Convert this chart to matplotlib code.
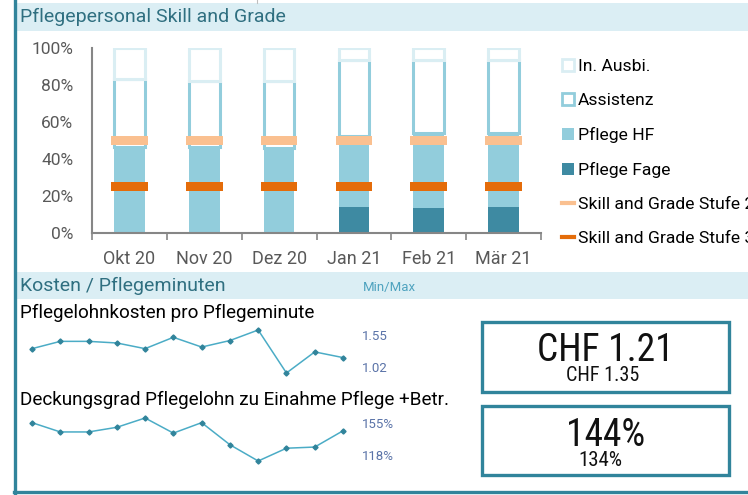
import matplotlib
matplotlib.use("Agg")
import matplotlib.pyplot as plt
from matplotlib import font_manager
from matplotlib.patches import Rectangle, Patch
from matplotlib.lines import Line2D
import numpy as np

# --- data ---
months = ["Okt 20", "Nov 20", "Dez 20", "Jan 21", "Feb 21", "Mär 21"]
pflege_fage = [0.00, 0.00, 0.00, 0.14, 0.135, 0.14]
pflege_hf = [0.465, 0.465, 0.46, 0.385, 0.405, 0.40]
assistenz = [0.365, 0.355, 0.36, 0.41, 0.395, 0.395]
in_ausbi = [0.17, 0.18, 0.18, 0.065, 0.065, 0.065]
stufe2 = [0.50, 0.50, 0.50, 0.50, 0.50, 0.50]
stufe3 = [0.25, 0.25, 0.25, 0.25, 0.25, 0.25]

kosten_min = [1.32, 1.41, 1.41, 1.39, 1.32, 1.46, 1.34, 1.42, 1.55, 1.02, 1.28, 1.21]
deckung = [151, 143, 143, 147, 155, 142, 151, 132, 118, 129, 130, 144]
kosten_ref = 1.35
deckung_ref = 134

# --- colours ---
teal = "#31849b"
band = "#dbeef4"
c_fage = "#3e8aa2"
c_hf = "#92cddc"
c_ausbi = "#daeef3"
c_st2 = "#fac090"
c_st3 = "#e46c0a"
grey = "#595959"

names = {f.name for f in font_manager.fontManager.ttflist}
cond = "Roboto"
for cand in ["Roboto Condensed", "Liberation Sans Narrow"]:
    if cand in names:
        cond = cand
        break
plt.rcParams["font.family"] = ["Roboto", "DejaVu Sans"]
cond_fam = [cond, "DejaVu Sans"]

W, H = 748, 495
fig = plt.figure(figsize=(W / 100, H / 100), dpi=100)


def fx(px):
    return px / W


def fy(py):
    return 1 - py / H


def rect_px(x0, y0, x1, y1, **kw):
    fig.patches.append(Rectangle((fx(x0), fy(y1)), fx(x1) - fx(x0),
                                 fy(y0) - fy(y1), transform=fig.transFigure,
                                 **kw))


# header bands and frame
rect_px(17, 3, 748, 31, facecolor=band, edgecolor="none")
rect_px(17, 272, 748, 299, facecolor=band, edgecolor="none")
fig.add_artist(Line2D([fx(15), fx(15)], [fy(0), fy(493)], color=teal, lw=2.4,
                      transform=fig.transFigure))
fig.add_artist(Line2D([fx(14), fx(748)], [fy(492), fy(492)], color=teal, lw=2.4,
                      transform=fig.transFigure))
fig.add_artist(Line2D([fx(257), fx(257)], [fy(0), fy(3)], color="#bfbfbf", lw=0.8,
                      transform=fig.transFigure))

fig.text(fx(20), fy(17), "Pflegepersonal Skill and Grade", color="#2f6f80",
         fontsize=14, va="center", ha="left")
fig.text(fx(20), fy(286), "Kosten / Pflegeminuten", color="#2f6f80",
         fontsize=14, va="center", ha="left")
fig.text(fx(363), fy(287), "Min/Max", color="#4fa3bf", fontsize=9.5,
         va="center", ha="left")

# --- stacked bar chart ---
ax = fig.add_axes([fx(92), fy(233), fx(541) - fx(92), fy(48) - fy(233)])
x = np.arange(len(months))
bw = 0.41
ax.bar(x, pflege_fage, bw, color=c_fage, zorder=2)
bot = np.array(pflege_fage)
ax.bar(x, pflege_hf, bw, bottom=bot, color=c_hf, zorder=2)
bot = bot + np.array(pflege_hf)
ax.bar(x, assistenz, bw, bottom=bot, facecolor="white", edgecolor=c_hf,
       linewidth=2.2, zorder=2)
bot = bot + np.array(assistenz)
ax.bar(x, in_ausbi, bw, bottom=bot, facecolor="white", edgecolor=c_ausbi,
       linewidth=2.2, zorder=2)

th = 0.049
ax.bar(x, th, 0.49, bottom=np.array(stufe2) - th / 2, color=c_st2, zorder=3)
ax.bar(x, th, 0.49, bottom=np.array(stufe3) - th / 2, color=c_st3, zorder=3)

ax.set_xlim(-0.5, len(months) - 0.5)
ax.set_ylim(0, 1)
ax.set_yticks(np.arange(0, 1.01, 0.2))
ax.set_yticklabels([f"{v:.0%}" for v in np.arange(0, 1.01, 0.2)])
ax.set_xticks(x)
ax.set_xticklabels(months)
ax.set_xticks(np.arange(-0.5, len(months)), minor=True)
ax.tick_params(axis="x", which="major", length=0, pad=12, labelsize=13,
               labelcolor=grey)
ax.tick_params(axis="x", which="minor", length=5, width=1.2, color="#868686")
ax.tick_params(axis="y", length=0, pad=13.5, labelsize=12.5, labelcolor=grey)
for s in ["top", "right"]:
    ax.spines[s].set_visible(False)
for s in ["left", "bottom"]:
    ax.spines[s].set_color("#868686")
    ax.spines[s].set_linewidth(1.5)

handles = [
    Patch(facecolor="white", edgecolor=c_ausbi, linewidth=2),
    Patch(facecolor="white", edgecolor=c_hf, linewidth=2),
    Patch(facecolor=c_hf),
    Patch(facecolor=c_fage),
    Line2D([0], [0], color=c_st2, lw=3),
    Line2D([0], [0], color=c_st3, lw=3),
]
labels = ["In. Ausbi.", "Assistenz", "Pflege HF", "Pflege Fage",
          "Skill and Grade Stufe 2", "Skill and Grade Stufe 3"]
fig.legend(handles, labels, loc="upper left", bbox_to_anchor=(fx(562), fy(59)),
           frameon=False, fontsize=12.6, handlelength=0.67, handleheight=0.67,
           handletextpad=0.24, labelspacing=1.08, borderaxespad=0,
           borderpad=0)

# --- sparklines ---
fig.text(fx(20), fy(313), "Pflegelohnkosten pro Pflegeminute", color="black",
         fontsize=13.6, va="center", ha="left")
fig.text(fx(20), fy(400), "Deckungsgrad Pflegelohn zu Einahme Pflege +Betr.",
         color="black", fontsize=13.6, va="center", ha="left")


def spark(vals, top, bottom):
    a = fig.add_axes([fx(32), fy(bottom), fx(343) - fx(32), fy(top) - fy(bottom)])
    a.plot(np.arange(len(vals)), vals, color="#4bacc6", lw=1.1, marker="D",
           markersize=2.6, markerfacecolor=teal, markeredgecolor=teal,
           clip_on=False)
    a.set_xlim(0, len(vals) - 1)
    a.set_ylim(min(vals), max(vals))
    a.axis("off")
    return a


spark(kosten_min, 330, 373)
spark(deckung, 418, 461)

lab_c = "#5a73a8"
fig.text(fx(362), fy(336), f"{max(kosten_min):.2f}", color=lab_c, fontsize=9.5,
         va="center", ha="left")
fig.text(fx(362), fy(369), f"{min(kosten_min):.2f}", color=lab_c, fontsize=9.5,
         va="center", ha="left")
fig.text(fx(362), fy(425), f"{max(deckung)}%", color=lab_c, fontsize=9.5,
         va="center", ha="left")
fig.text(fx(362), fy(456), f"{min(deckung)}%", color=lab_c, fontsize=9.5,
         va="center", ha="left")

# --- KPI boxes ---
rect_px(482, 322, 729, 392, facecolor="white", edgecolor=teal, linewidth=2.4)
rect_px(482, 406, 729, 475, facecolor="white", edgecolor=teal, linewidth=2.4)
fig.text(fx(605), fy(361), f"CHF {kosten_min[-1]:.2f}", fontsize=27,
         family=cond_fam, color="#111111", va="baseline", ha="center")
fig.text(fx(603), fy(381), f"CHF {kosten_ref:.2f}", fontsize=14.5,
         family=cond_fam, color="#111111", va="baseline", ha="center")
fig.text(fx(606), fy(446), f"{deckung[-1]}%", fontsize=27,
         family=cond_fam, color="#111111", va="baseline", ha="center")
fig.text(fx(600), fy(466), f"{deckung_ref}%", fontsize=15,
         family=cond_fam, color="#111111", va="baseline", ha="center")

fig.savefig("out.png", dpi=100)
